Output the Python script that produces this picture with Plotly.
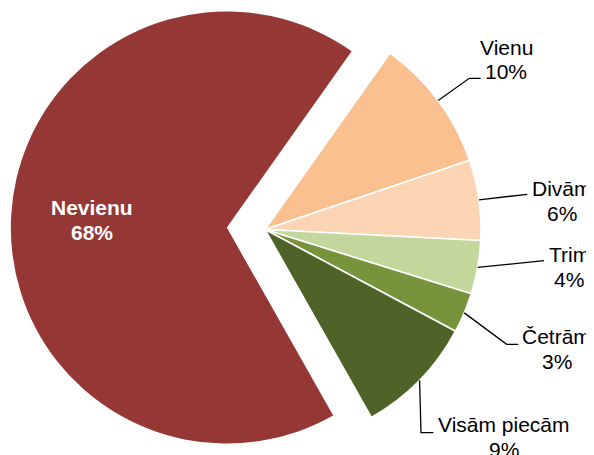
import math
import plotly.graph_objects as go

# ---- data ----
labels = ["Nevienu", "Vienu", "Divām", "Trim", "Četrām", "Visām piecām"]
values = [68, 10, 6, 4, 3, 9]
pct_labels = ["68%", "10%", "6%", "4%", "3%", "9%"]
colors = ["#953735", "#FAC090", "#FCD5B5", "#C3D69B", "#77933C", "#4F6228"]

# ---- layout geometry (screen pixels; page body has an 8px margin) ----
W, H = 594, 455
OFF = 8
CX, CY, R = 265, 229.5, 216
ROT = 150.5        # start angle of first slice, clockwise from 12 o'clock
PULL = 0.177       # pull of the first slice
FONT = "Liberation Sans, Arial, sans-serif"
FS = 21
LINE_GAP = 25

# label text centre x and first-line baseline y
label_pos = {
    "Nevienu": (92, 215),
    "Vienu": (506, 54.3),
    "Divām": (561.7, 195.7),
    "Trim": (569, 261.7),
    "Četrām": (556.5, 344),
    "Visām piecām": (504, 431.7),
}
# leader line bends / ends (start points come from slice angles)
leader_pts = {
    "Vienu": [(469.3, 78.3), (480.7, 78.3)],
    "Divām": [(527.3, 194.3)],
    "Trim": [(544, 260.7)],
    "Četrām": [(506.7, 344.3), (518.3, 344.3)],
    "Visām piecām": [(421, 432.7), (433.3, 432.7)],
}


def px(x):
    return (x - OFF) / W


def py(y):
    return 1 - (y - OFF) / H


def domain(cx, cy, r):
    return dict(x=[px(cx - r), px(cx + r)], y=[py(cy + r), py(cy - r)])


total = sum(values)
mids = []
a = ROT
for v in values:
    span = 360.0 * v / total
    mids.append(a + span / 2)
    a += span

clear = "rgba(0,0,0,0)"
fig = go.Figure()

# non-pulled slices
fig.add_trace(go.Pie(
    labels=labels, values=values, sort=False, direction="clockwise",
    rotation=ROT, textinfo="none", hoverinfo="label+percent",
    marker=dict(colors=[clear] + colors[1:],
                line=dict(color="white", width=[0] + [1.6] * (len(values) - 1))),
    domain=domain(CX, CY, R), showlegend=False,
))

# pulled first slice
m0 = math.radians(mids[0])
pcx = CX + PULL * R * math.sin(m0)
pcy = CY - PULL * R * math.cos(m0)
fig.add_trace(go.Pie(
    labels=labels, values=values, sort=False, direction="clockwise",
    rotation=ROT, textinfo="none", hoverinfo="label+percent",
    marker=dict(colors=[colors[0]] + [clear] * (len(values) - 1),
                line=dict(color="white", width=0)),
    domain=domain(pcx, pcy, R), showlegend=False,
))

annotations = []
shapes = []
for i, name in enumerate(labels):
    x, yb = label_pos[name]
    inside = i == 0
    fnt = dict(family=FONT, size=FS, color="white" if inside else "black")
    for k, txt in enumerate([name, pct_labels[i]]):
        t = f"<b>{txt}</b>" if inside else txt
        annotations.append(dict(
            x=px(x), y=py(yb + k * LINE_GAP - 7.3), xref="paper", yref="paper",
            text=t, showarrow=False, xanchor="center", yanchor="middle",
            font=fnt,
        ))
    if name in leader_pts:
        ang = math.radians(mids[i])
        sx = CX + R * math.sin(ang)
        sy = CY - R * math.cos(ang)
        pts = [(sx, sy)] + leader_pts[name]
        path = "M " + " L ".join(f"{px(p[0]):.5f},{py(p[1]):.5f}" for p in pts)
        shapes.append(dict(type="path", path=path, xref="paper", yref="paper",
                           line=dict(color="black", width=1.3)))

fig.update_layout(
    width=W, height=H,
    margin=dict(l=0, r=0, t=0, b=0),
    paper_bgcolor="white", plot_bgcolor="white",
    annotations=annotations, shapes=shapes,
    font=dict(family=FONT),
)

fig.write_html("out.html")
